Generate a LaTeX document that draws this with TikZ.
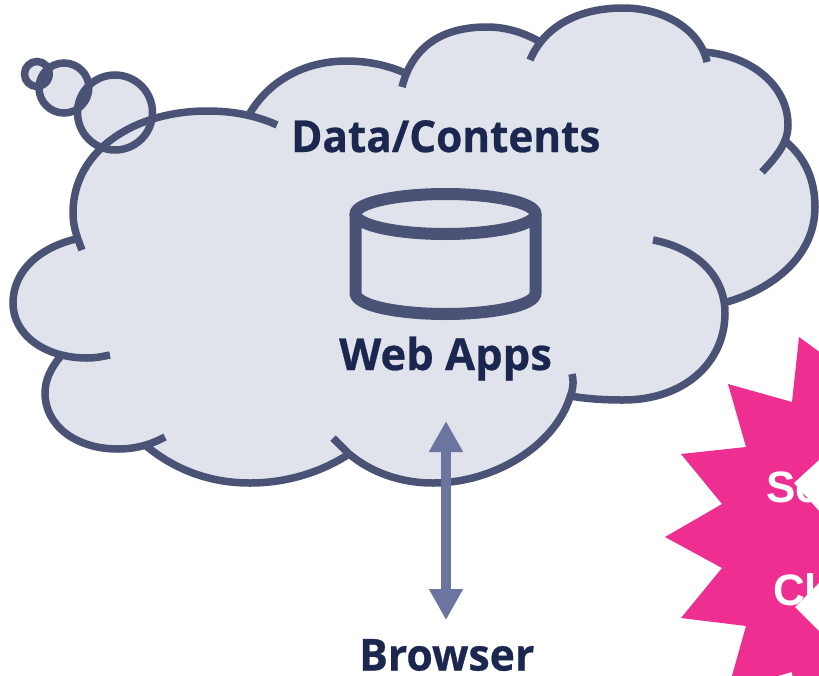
\documentclass[tikz,border=0pt]{standalone}
\usepackage{graphicx}
\usepackage{fontspec}
\setmainfont{Open Sans}[BoldFeatures={FakeBold=0.6}]
\newfontfamily\arialb{Liberation Sans}[BoldFont={Liberation Sans Bold}]
\usetikzlibrary{arrows.meta}
\definecolor{cloudfill}{HTML}{E0E3EC}
\definecolor{cloudline}{HTML}{4A5275}
\definecolor{labelink}{HTML}{1C2750}
\definecolor{arrowblue}{HTML}{6B75A0}
\definecolor{starpink}{HTML}{EE2E91}
\tikzset{
  lobe/.style={draw=cloudline,line width=7.5pt,line cap=butt},
  lobefill/.style={draw=cloudfill,fill=cloudfill,line width=2pt},
  bubble/.style={draw=cloudline,fill=cloudfill,line width=7.5pt},
  cloudlabel/.style={anchor=base west,inner sep=0pt,text=labelink,font=\fontsize{44}{44}\selectfont\bfseries},
  starlabel/.style={anchor=base west,inner sep=0pt,text=white,font=\fontsize{44}{44}\selectfont\arialb\bfseries},
}
\newcommand{\LobeA}{(82,250) .. controls (76,235) and (73,225) .. (73,213) .. controls (73,150) and (135,111) .. (207,111) .. controls (232,111) and (255,115) .. (277,125)}
\newcommand{\LobeB}{(250,113) .. controls (270,80) and (305,61) .. (347,61) .. controls (367,61) and (387,65) .. (405,73)}
\newcommand{\LobeC}{(402,87) .. controls (412,48) and (440,27) .. (487,27) .. controls (507,27) and (525,33) .. (542,43)}
\newcommand{\LobeD}{(530,60) .. controls (545,25) and (580,8) .. (623,8) .. controls (665,8) and (700,30) .. (707,62)}
\newcommand{\LobeE}{(703,52) .. controls (750,55) and (788,85) .. (788,125) .. controls (788,142) and (778,155) .. (762,172)}
\newcommand{\LobeF}{(785,141) .. controls (805,157) and (815,180) .. (815,207) .. controls (815,255) and (775,288) .. (727,302)}
\newcommand{\LobeG}{(653,240) .. controls (695,248) and (725,275) .. (725,313) .. controls (725,362) and (685,400) .. (623,400) .. controls (605,400) and (588,399) .. (570,396)}
\newcommand{\LobeH}{(572,374) .. controls (574,382) and (573,390) .. (570,397) .. controls (555,445) and (495,483) .. (433,483) .. controls (400,483) and (370,472) .. (348,453) .. controls (343,448) and (338,443) .. (333,438)}
\newcommand{\LobeI}{(349,454) .. controls (320,473) and (285,483) .. (250,483) .. controls (210,483) and (175,470) .. (145,445)}
\newcommand{\LobeJ}{(165,437) .. controls (150,445) and (135,449) .. (118,449) .. controls (75,449) and (45,425) .. (45,393) .. controls (45,380) and (51,368) .. (60,357)}
\newcommand{\LobeK}{(110,355) .. controls (100,357) and (95,358) .. (87,358) .. controls (45,358) and (13,335) .. (13,303) .. controls (13,272) and (38,248) .. (76,239)}
\begin{document}
\begin{tikzpicture}[x=1pt,y=-1pt]
\clip (0,0) rectangle (819,675);
\fill[white] (0,0) rectangle (819,675);
% star
\fill[starpink] (799,337) -- (792,402) -- (728,384) -- (746,447) -- (681,454) -- (722,504) -- (665,537) -- (722,568) -- (681,618) -- (746,626) -- (728,690) -- (792,672) -- (799,737) -- (840,737) -- (840,367) -- cycle;
\node[starlabel] (serverlabel) at (766,502) {Se};
\node[starlabel] (clientlabel) at (773,605) {Cl};
\fill[white] (794,483) -- (830,450) -- (830,523) -- cycle;
\fill[white] (795,607) -- (830,572) -- (830,642) -- cycle;
% cloud fill
\fill[lobefill] (82,250) -- (250,113) -- (405,73) -- (540,40) -- (703,52) -- (785,141) -- (727,302) -- (725,313) -- (570,396) -- (348,454) -- (145,445) -- (60,357) -- (76,240) -- cycle;
\foreach \lobepath in {\LobeA,\LobeB,\LobeC,\LobeD,\LobeE,\LobeF,\LobeG,\LobeH,\LobeI,\LobeJ,\LobeK}{
  \fill[lobefill] \lobepath -- cycle;
}
% thought bubbles
\node[bubble,circle,minimum size=25pt,inner sep=0pt,outer sep=0pt] (bubsmall) at (37,74) {};
\node[bubble,circle,minimum size=50pt,inner sep=0pt,outer sep=0pt] (bubmid) at (64,88) {};
\node[bubble,circle,minimum size=75pt,inner sep=0pt,outer sep=0pt] (bubbig) at (115,112.5) {};
\begin{scope}
\clip (64,88) circle (28.5);
\fill[cloudline] (37,74) circle (16);
\fill[cloudline] (115,112.5) circle (41);
\end{scope}
% cloud outline
\foreach \lobepath in {\LobeA,\LobeB,\LobeC,\LobeD,\LobeE,\LobeF,\LobeG,\LobeH,\LobeI,\LobeJ,\LobeK}{
  \draw[lobe] \lobepath;
}
% cylinder
\draw[draw=cloudline,line width=12pt,line join=round] (355.5,214) -- (355.5,293) .. controls (355.5,306) and (400,314) .. (445.5,314) .. controls (491,314) and (535.5,306) .. (535.5,293) -- (535.5,214);
\draw[draw=cloudline,line width=12pt] (445.5,214) ellipse (90 and 20);
% labels
\node[cloudlabel] (datalabel) at (291,152) {\scalebox{0.96}[1]{Data/Contents}};
\node[cloudlabel] (webapps) at (339,370) {\scalebox{0.99}[1]{Web Apps}};
\node[cloudlabel] (browser) at (359,670.5) {\scalebox{0.97}[1]{Browser}};
% arrow
\coordinate (arrowtop) at (446,421);
\coordinate (arrowbottom) at (446,620);
\draw[arrowblue,line width=10pt,{Triangle[length=31pt,width=32pt]}-{Triangle[length=31pt,width=32pt]}] (arrowtop) -- (arrowbottom);
\end{tikzpicture}
\end{document}
